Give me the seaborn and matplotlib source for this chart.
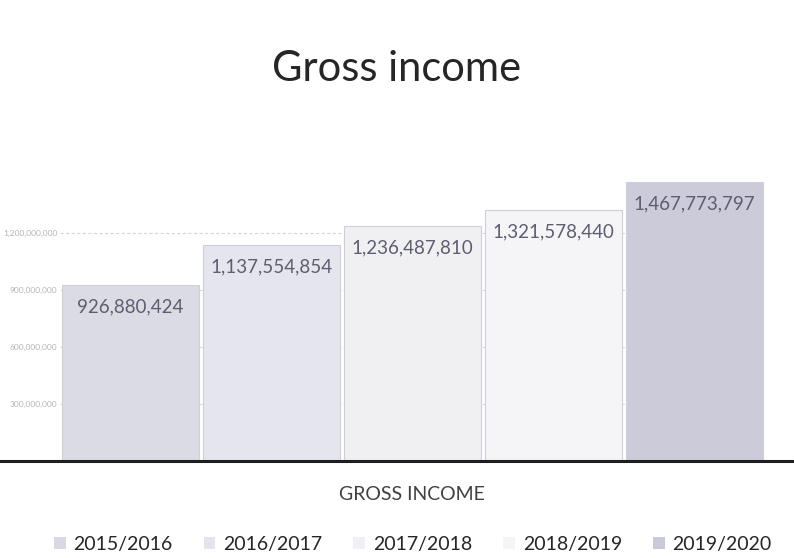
import numpy as np
import pandas as pd

import matplotlib
matplotlib.use('Agg')
import matplotlib.pyplot as plt
from matplotlib.ticker import FuncFormatter

import seaborn as sns

# values (labels are barely legible, so estimated)
years = ["2015/2016", "2016/2017", "2017/2018", "2018/2019", "2019/2020"]
income = [926880424, 1137554854, 1236487810, 1321578440, 1467773797]
bar_labels = ["926,880,424", "1,137,554,854", "1,236,487,810", "1,321,578,440", "1,467,773,797"]
colors = ["#d9d9e6", "#e4e4ee", "#efeff4", "#f5f5f8", "#c9c9dc"]
y_ticks = [300000000, 600000000, 900000000, 1200000000]

df = pd.DataFrame({"year": years, "income": income})

sns.set_style("white")
plt.rcParams['font.family'] = ['Lato', 'DejaVu Sans']

fig = plt.figure(figsize=(7.94, 5.58), dpi=100)
ax = fig.add_axes([0.0756, 0.174, 0.8874, 0.511])

sns.barplot(data=df, x="year", y="income", hue="year", palette=colors,
            order=years, hue_order=years, dodge=False, width=0.97,
            edgecolor="#cfcfdc", linewidth=0.8, legend=False, ax=ax)

ax.set_ylim(0, 1500000000)
ax.set_yticks(y_ticks)
ax.yaxis.set_major_formatter(FuncFormatter(lambda v, p: "{:,.0f}".format(v)))
ax.tick_params(axis='y', labelsize=6, labelcolor="#b5b5b5", length=0, pad=2)
ax.set_xticks([])
ax.yaxis.grid(True, color="#d6d6d6", linewidth=0.8, linestyle=(0, (3, 2)))
ax.set_axisbelow(True)
for s in ["top", "right", "left", "bottom"]:
    ax.spines[s].set_visible(False)
ax.axhline(0, xmin=-0.086, xmax=1.04, color="#1e1e1e", linewidth=2.2, clip_on=False)

for i, txt in enumerate(bar_labels):
    ax.annotate(txt, (i, income[i]), xytext=(0, -16), textcoords="offset points",
                ha="center", va="center", fontsize=13.5, color="#5e5e72")

ax.set_xlabel("GROSS INCOME", fontsize=14, color="#404040", labelpad=18)
ax.set_ylabel("")
fig.suptitle("Gross income", y=0.91, fontsize=30, color="#262626")

handles = [plt.Rectangle((0, 0), 1, 1, facecolor=c, edgecolor="none") for c in colors]
fig.legend(handles, years, loc="lower center", bbox_to_anchor=(0.52, -0.022), ncol=5,
           frameon=False, fontsize=14, handlelength=0.6, handleheight=0.6,
           handletextpad=0.4, columnspacing=1.6, labelcolor="#262626")

fig.savefig("out.png", dpi=100, facecolor="white")
plt.close()
